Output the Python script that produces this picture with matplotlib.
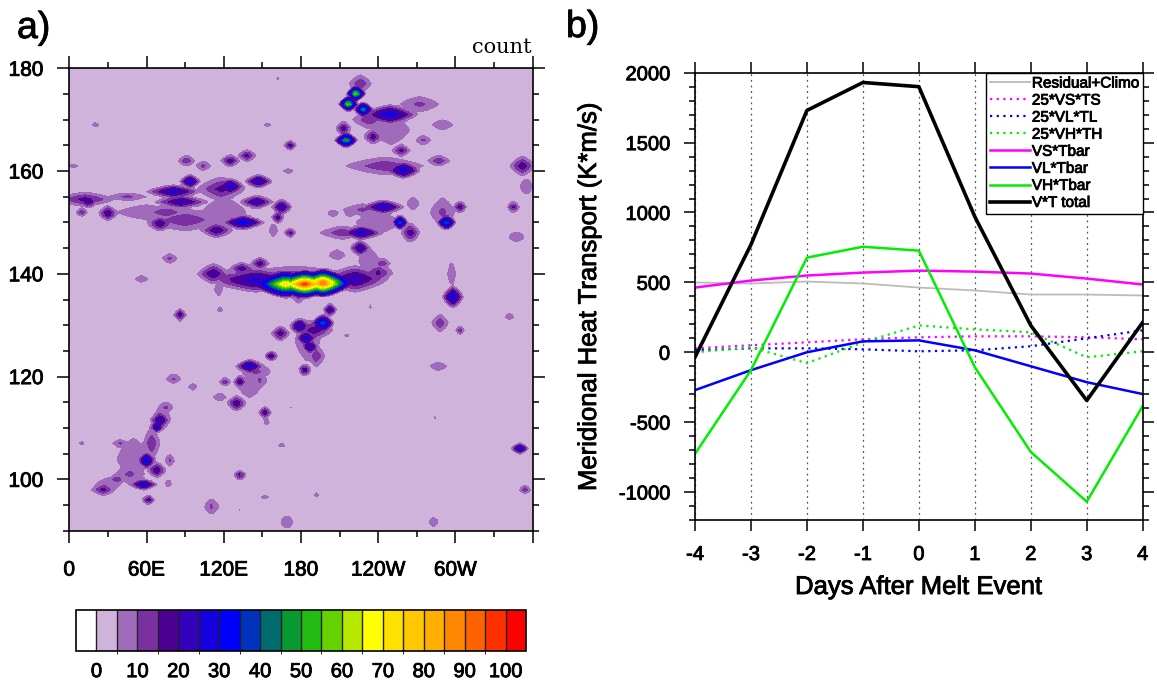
import numpy as np
import matplotlib
matplotlib.use("Agg")
import matplotlib.pyplot as plt
import matplotlib.patheffects as pe
from matplotlib.colors import ListedColormap, BoundaryNorm
from matplotlib.colorbar import ColorbarBase

plt.rcParams['font.family'] = ['Liberation Sans', 'DejaVu Sans']
plt.rcParams['axes.unicode_minus'] = False

# ---------------- panel a) : count field, read off as blobs ----------------
# centre longitude (deg E), centre y, peak count, spread (lon, y)
blob_lon = [183, 197, 168, 145, 112, 125, 222, 240, 148, 134,
            178, 116, 222.7, 216.8, 228.4, 215, 249, 272, 213, 236,
            226, 258, 275, 290, 233, 259.5, 245, 287, 352, 355,
            244, 228, 267, 257, 265, 293, 290, 303.5, 345, 227,
            212, 226, 205, 218, 208, 243, 233, 298, 297, 347.5,
            342, 288, 303.5, 286.7, 283, 350, 354, 12, 14.8, 30,
            9.6, 3, 45, 81, 93.8, 87, 70.5, 90, 114.5, 125,
            118, 147, 135, 145.6, 165, 162, 171.5, 158.5, 125, 138,
            91, 104, 170, 171.5, 20.5, 154, 162, 75, 78, 56,
            114.5, 202.5, 197, 179, 184, 187, 164, 192, 183, 190,
            117, 86, 157, 140, 132.6, 148, 121, 81, 96, 130,
            117, 152, 153.3, 171.5, 145, 70.5, 68, 75, 60, 68,
            57.5, 37, 26.4, 78, 77, 39.4, 9.6, 61.4, 132.6, 110.6,
            165, 152, 169, 215.5, 233.6, 192, 132.6, 284, 47, 64,
            175, 50, 30, 72, 60, 120, 240, 250, 185, 140]
blob_lat = [138, 138.2, 138, 138.8, 140, 139, 139, 140.2, 142, 141,
            136, 137, 175.1, 173.1, 172, 166, 171, 173, 168.3, 166.7,
            177, 164, 166, 169, 170, 160.2, 161, 162, 161, 157,
            153, 152.5, 153.7, 150, 148, 150, 152, 153, 153, 148,
            148, 145, 151.8, 151.8, 143.7, 142, 142.5, 135.5, 140, 147.2,
            131.7, 130.4, 129, 122, 91.7, 106, 98, 154.5, 154, 151.8,
            152, 161, 155, 156, 158, 154, 149.8, 150.5, 148.5, 157,
            156.5, 158, 150, 154, 153, 151, 148, 148.5, 162, 163,
            162, 161, 160, 165, 169, 169, 178, 152, 143, 139,
            141, 133, 130.4, 129.8, 127.5, 125.8, 128.4, 124, 121.3, 129,
            133, 132, 124, 122, 119, 119.3, 119, 119.6, 118, 114.8,
            116, 113, 111.2, 114, 121, 111.5, 110.2, 114, 103.7, 101.8,
            99, 100, 98, 103.7, 99.2, 107, 107, 96, 100.8, 94.7,
            106.7, 96.6, 91.7, 128, 133.6, 97, 94, 112, 101, 107,
            140, 104, 99, 112, 152, 152, 150, 168, 127, 118]
blob_peak = [100, 98, 75, 28, 22, 15, 25, 18, 20, 20,
             15, 10, 65, 65, 50, 55, 32, 12, 20, 20,
             15, 18, 12, 10, 15, 32, 15, 15, 20, 10,
             30, 12, 10, 45, 20, 45, 12, 20, 18, 30,
             15, 25, 10, 10, 10, 15, 10, 32, 8, 10,
             8, 15, 15, 10, 12, 30, 15, 18, 22, 22,
             15, 8, 12, 28, 30, 25, 22, 15, 22, 30,
             18, 28, 35, 25, 25, 20, 18, 10, 20, 18,
             15, 12, 8, 20, 10, 8, 7, 15, 12, 10,
             10, 25, 45, 30, 30, 30, 20, 15, 22, 20,
             8, 20, 22, 30, 22, 12, 15, 12, 10, 22,
             10, 20, 10, 6, 12, 25, 32, 12, 35, 22,
             30, 15, 18, 12, 10, 12, 8, 20, 20, 12,
             8, 8, 10, 7, 7, 8, 6, 6, 12, 15,
             12, 10, 10, 10, 9, 9, 9, 9, 10, 9]
blob_wx = [10, 8, 9, 14, 5, 8, 10, 5, 3, 4,
           3, 2, 2.5, 2.5, 2.5, 3, 8, 8, 2.5, 3,
           4, 3, 3, 5, 6, 5, 14, 4, 4, 3,
           6, 8, 3, 2, 3, 2.5, 5, 2, 2, 6,
           8, 3, 3, 3, 4, 3, 5, 3, 2.5, 4,
           3, 3, 1.5, 4, 2, 2.5, 2, 10, 3, 3,
           2, 3, 8, 8, 3, 8, 4, 14, 5, 4,
           8, 4, 6, 5, 3, 2, 2, 2, 3, 3,
           3, 3, 3, 2, 1.5, 2, 1, 8, 3, 3,
           2, 2, 3, 3, 3, 2.5, 3, 3, 2, 6,
           1.5, 2, 2, 4, 2, 3, 2, 3, 2, 3,
           3, 2, 1.5, 1.5, 6, 3, 2, 3, 2.5, 3,
           4, 3, 4, 2, 1.5, 3, 1.5, 2, 2, 3,
           3, 3, 3, 2, 1, 1.5, 1.5, 1, 6, 3,
           22, 8, 6, 4, 16, 12, 12, 10, 6, 6]
blob_wy = [0.9, 0.9, 0.9, 0.9, 0.8, 0.8, 1.0, 0.7, 0.5, 0.5,
           0.8, 0.8, 0.5, 0.5, 0.5, 0.5, 0.7, 0.8, 0.6, 0.6,
           0.8, 0.5, 0.5, 0.6, 0.8, 0.6, 0.8, 0.5, 0.8, 1.0,
           0.5, 0.6, 0.8, 0.5, 0.8, 0.5, 1.5, 0.5, 0.5, 0.5,
           0.6, 0.6, 0.4, 0.4, 0.6, 0.5, 1.5, 0.8, 2.0, 0.6,
           0.5, 0.8, 0.4, 0.5, 0.5, 0.4, 0.4, 0.6, 0.5, 0.6,
           0.4, 0.3, 0.4, 0.5, 0.5, 0.5, 0.6, 1.0, 0.6, 0.6,
           1.0, 0.5, 0.5, 0.5, 0.6, 0.5, 0.4, 0.8, 0.5, 0.5,
           0.5, 0.5, 0.4, 0.4, 0.3, 0.3, 0.3, 0.6, 0.5, 0.4,
           0.5, 0.5, 0.6, 0.6, 0.6, 0.5, 0.6, 1.0, 0.5, 0.8,
           0.5, 0.5, 0.4, 0.5, 0.5, 0.8, 0.4, 0.5, 0.4, 0.6,
           0.5, 0.5, 0.4, 0.3, 1.0, 0.7, 0.4, 0.6, 0.6, 0.6,
           0.4, 0.5, 0.5, 0.6, 0.5, 0.4, 0.3, 0.4, 0.4, 0.8,
           0.3, 0.3, 0.8, 0.3, 0.6, 0.3, 0.3, 0.3, 1.0, 1.5,
           0.8, 2.5, 0.8, 1.5, 1.0, 2.0, 1.5, 2.0, 2.5, 1.5]

count_levels = list(range(0, 105, 5))
count_colors = ['#FFFFFF', '#CFB3DB', '#A16BBB', '#7A30A0', '#4B0092', '#3300BB',
                '#1500E0', '#0000FF', '#0033BB', '#006B6E', '#089A30', '#22BB11',
                '#66D300', '#B8E800', '#FFFF00', '#FFE100', '#FFC800', '#FFAF00',
                '#FF8800', '#FF6200', '#FF3000', '#FF0000']
lon_ticks = [0, 60, 120, 180, 240, 300, 360]
lon_labels = ['0', '60E', '120E', '180', '120W', '60W', '']

# ---------------- panel b) : heat transport composites ----------------
days = [-4, -3, -2, -1, 0, 1, 2, 3, 4]
resid_climo = [499, 492, 506, 492, 463, 442, 413, 413, 406]
vs_ts = [28, 50, 71, 93, 107, 114, 114, 107, 93]
vl_tl = [14, 28, 28, 21, 7, 14, 43, 100, 157]
vh_th = [0, 36, -78, 71, 192, 164, 143, -36, 7]
vs_tbar = [463, 513, 549, 570, 584, 577, 563, 527, 485]
vl_tbar = [-271, -128, 0, 78, 85, 14, -100, -214, -299]
vh_tbar = [-727, -128, 677, 755, 727, -107, -713, -1069, -385]
vt_total = [-35, 770, 1730, 1930, 1900, 970, 192, -345, 214]

W, H = 1157, 684
fig = plt.figure(figsize=(W / 100, H / 100), dpi=100)

def box(x0, y0, x1, y1):
    return [x0 / W, 1 - y1 / H, (x1 - x0) / W, (y1 - y0) / H]

# ---- panel a
ax1 = fig.add_axes(box(69.3, 68.3, 532.7, 530.7))
lon = np.arange(0, 360.01, 2.0)
lat = np.arange(90, 180.01, 0.5)
LON, LAT = np.meshgrid(lon, lat)
field = np.zeros_like(LON)
reach = 3.2  # cone shaped blobs, like linearly interpolated grid counts
for x0, y0, a, wx, wy in zip(blob_lon, blob_lat, blob_peak, blob_wx, blob_wy):
    r = ((np.abs(LON - x0) / (reach * wx)) ** 1.3 +
         (np.abs(LAT - y0) / (reach * wy)) ** 1.3) ** (1 / 1.3)
    field = np.maximum(field, a * np.clip(1 - r, 0, None))

cmap = ListedColormap(count_colors[1:-1])
cmap.set_under(count_colors[0])
cmap.set_over(count_colors[-1])
norm = BoundaryNorm(count_levels, cmap.N)
ax1.contourf(LON, LAT, field, levels=count_levels, cmap=cmap, norm=norm, extend='max')
ax1.set_xlim(0, 360)
ax1.set_ylim(90, 180)
ax1.set_xticks(lon_ticks)
ax1.set_xticklabels(lon_labels)
ax1.set_xticks(np.arange(30, 360, 60), minor=True)
ax1.set_yticks([100, 120, 140, 160, 180])
ax1.set_yticks(np.arange(90, 181, 5), minor=True)
ax1.tick_params(which='both', direction='out', top=True, right=True, width=1.1)
ax1.tick_params(which='major', length=8.5, labelsize=15)
ax1.tick_params(which='minor', length=4.5)
ax1.tick_params(axis='x', which='major', pad=13)
ax1.tick_params(axis='y', which='major', pad=10)
for s in ax1.spines.values():
    s.set_linewidth(1.2)

fig.text(532 / W, 1 - 53 / H, 'count', family='DejaVu Serif', fontsize=15,
         ha='right', va='baseline')
fig.text(17 / W, 1 - 38 / H, 'a)', fontsize=27, va='baseline')

cax = fig.add_axes(box(76, 609.5, 526, 651))
cb = ColorbarBase(cax, cmap=cmap, norm=norm, orientation='horizontal',
                  extend='both', extendrect=True, extendfrac='auto',
                  drawedges=True, ticks=list(range(0, 101, 10)))
cb.outline.set_linewidth(1.2)
cb.dividers.set_linewidth(1.0)
cb.dividers.set_color('#222222')
cax.tick_params(length=0, labelsize=14.5, pad=8)

# ---- panel b
ax2 = fig.add_axes(box(695, 72.7, 1142.7, 520))
ax2.plot(days, resid_climo, color='#BBBBBB', lw=1.3, label='Residual+Climo')
ax2.plot(days, vs_ts, color='#FF00FF', lw=1.6, ls=(0, (1, 2)), label='25*VS*TS')
ax2.plot(days, vl_tl, color='#0000FF', lw=1.6, ls=(0, (1, 2)), label='25*VL*TL')
ax2.plot(days, vh_th, color='#00EE00', lw=1.6, ls=(0, (1, 2)), label='25*VH*TH')
ax2.plot(days, vs_tbar, color='#FF00FF', lw=1.8, label='VS*Tbar')
ax2.plot(days, vl_tbar, color='#0000FF', lw=1.8, label='VL*Tbar')
ax2.plot(days, vh_tbar, color='#00EE00', lw=1.8, label='VH*Tbar')
ax2.plot(days, vt_total, color='black', lw=2.6, label='V*T total')

ax2.set_xlim(-4, 4)
ax2.set_ylim(-1200, 2000)
ax2.set_xticks(days)
ax2.set_yticks(np.arange(-1000, 2001, 500))
ax2.set_yticks(np.arange(-1200, 2001, 100), minor=True)
ax2.grid(axis='x', color='#555555', lw=0.9, ls=(0, (1.5, 3)))
ax2.set_axisbelow(True)
ax2.tick_params(which='both', direction='out', top=True, right=True, width=1.1)
ax2.tick_params(which='major', length=8, labelsize=14.5)
ax2.tick_params(which='minor', length=4.5)
ax2.tick_params(axis='x', which='major', pad=10)
ax2.tick_params(axis='y', which='major', pad=10)
for s in ax2.spines.values():
    s.set_linewidth(1.2)

ax2.set_xlabel('Days After Melt Event', fontsize=18.5)
ax2.xaxis.set_label_coords(0.5, -0.123)
ax2.set_ylabel('Meridional Heat Transport (K*m/s)', fontsize=18.5)
ax2.yaxis.set_label_coords(-0.21, 0.5)

leg = ax2.legend(loc='upper right', bbox_to_anchor=(1, 1), borderaxespad=0,
                 fontsize=11, handlelength=2.6, handletextpad=0.15,
                 labelspacing=0.2, borderpad=0.25, fancybox=False,
                 framealpha=1, edgecolor='black')
leg.get_frame().set_linewidth(1.0)

fig.text(566 / W, 1 - 37 / H, 'b)', fontsize=27, va='baseline')

# the original lettering is a little heavier than Liberation Sans regular
heavy = [pe.withStroke(linewidth=0.6, foreground='black')]
fig.canvas.draw()
for t in fig.findobj(matplotlib.text.Text):
    if t.get_text() and t.get_text() != 'count':
        t.set_path_effects(heavy)
# ticks rebuilt while saving (colorbar labels) pick the same effect up
plt.rcParams['path.effects'] = heavy

plt.savefig('out.png', dpi=100)
